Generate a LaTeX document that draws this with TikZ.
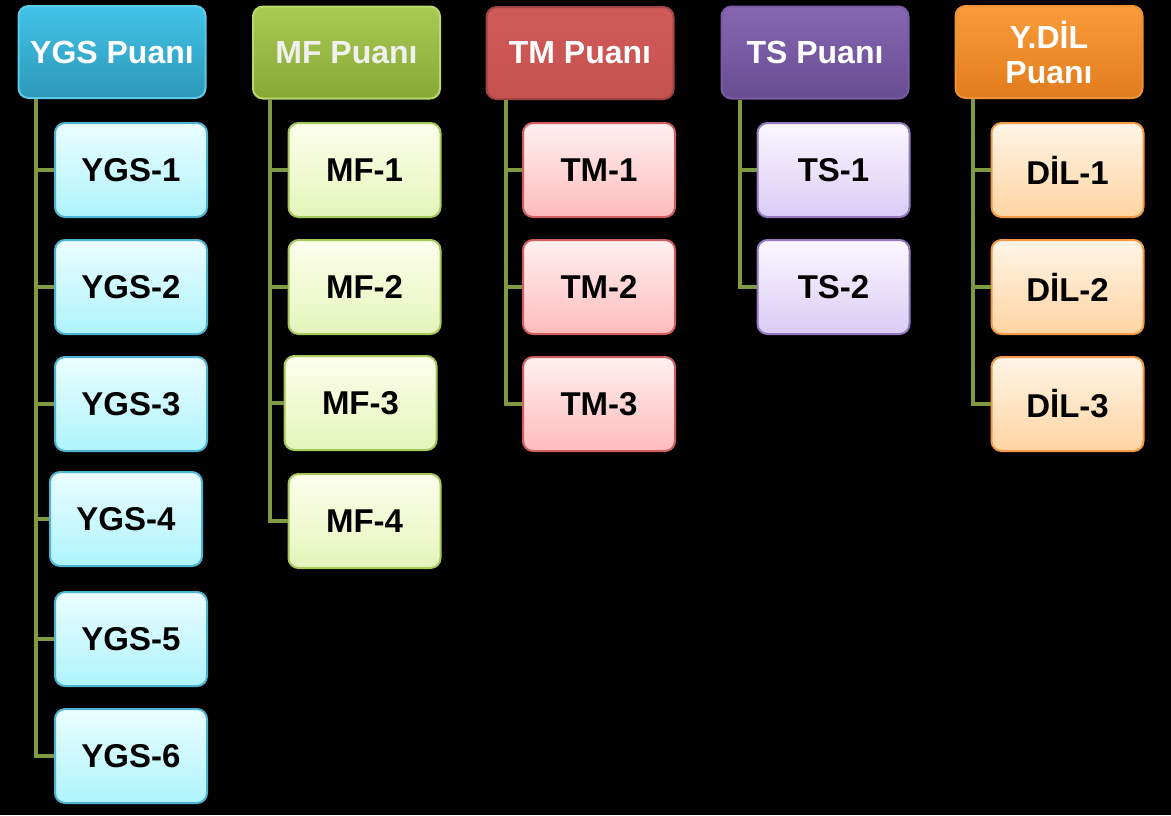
\documentclass[tikz,border=0pt]{standalone}
\usepackage{fontspec}
\setmainfont{Liberation Sans}
\usepackage{xcolor}

\definecolor{hatYesil}{HTML}{7F9A42}
\definecolor{ygsUst}{HTML}{42C3E8}
\definecolor{ygsAlt}{HTML}{2C98B8}
\definecolor{ygsCerceve}{HTML}{5CCBEA}
\definecolor{ygsAcik}{HTML}{EBFEFF}
\definecolor{ygsKoyu}{HTML}{ADF3FC}
\definecolor{ygsCizgi}{HTML}{4DB3D2}
\definecolor{mfUst}{HTML}{A8CB52}
\definecolor{mfAlt}{HTML}{88A836}
\definecolor{mfCerceve}{HTML}{B9D96A}
\definecolor{mfAcik}{HTML}{FDFFEC}
\definecolor{mfKoyu}{HTML}{E4F4BA}
\definecolor{mfCizgi}{HTML}{A6C75A}
\definecolor{tmUst}{HTML}{D05A58}
\definecolor{tmAlt}{HTML}{C65250}
\definecolor{tmCerceve}{HTML}{A24442}
\definecolor{tmAcik}{HTML}{FFF0F0}
\definecolor{tmKoyu}{HTML}{FFBBBB}
\definecolor{tmCizgi}{HTML}{D05E5E}
\definecolor{tsUst}{HTML}{8767B2}
\definecolor{tsAlt}{HTML}{684D92}
\definecolor{tsCerceve}{HTML}{7A5CA4}
\definecolor{tsAcik}{HTML}{FBF7FF}
\definecolor{tsKoyu}{HTML}{DACCF5}
\definecolor{tsCizgi}{HTML}{9479C0}
\definecolor{dilUst}{HTML}{FA9C3A}
\definecolor{dilAlt}{HTML}{E27B1C}
\definecolor{dilCerceve}{HTML}{F0923A}
\definecolor{dilAcik}{HTML}{FFF5E6}
\definecolor{dilKoyu}{HTML}{FFD4A2}
\definecolor{dilCizgi}{HTML}{F49A46}

\tikzset{
  baslik/.style={rounded corners=5pt, minimum width=93.5pt, minimum height=46pt,
    inner sep=0pt, text=white, align=center, line width=1pt,
    font=\bfseries\fontsize{16}{17.5}\selectfont},
  kutu/.style={rounded corners=5pt, minimum width=76pt, minimum height=47pt,
    inner sep=0pt, text=black, line width=1pt,
    font=\bfseries\fontsize{16.5}{18}\selectfont},
  baglanti/.style={draw=hatYesil, line width=2pt},
}

\begin{document}
\begin{tikzpicture}[x=0.5pt,y=-0.5pt]
  \fill[black] (0,0) rectangle (1171,815);
  \useasboundingbox (0,0) rectangle (1171,815);

  % basliklar
  \node[baslik, top color=ygsUst, bottom color=ygsAlt, draw=ygsCerceve] (ygs) at (112,52) {YGS Puanı};
  \node[baslik, top color=mfUst, bottom color=mfAlt, draw=mfCerceve, text=white!94!black] (mf) at (346.5,52.5) {MF Puanı};
  \node[baslik, top color=tmUst, bottom color=tmAlt, draw=tmCerceve] (tm) at (580,53) {TM Puanı};
  \node[baslik, top color=tsUst, bottom color=tsAlt, draw=tsCerceve] (ts) at (815,52.5) {TS Puanı};
  \node[baslik, top color=dilUst, bottom color=dilAlt, draw=dilCerceve] (dil) at (1049,52) {Y.DİL\\Puanı};

  % YGS
  \node[kutu, top color=ygsAcik, bottom color=ygsKoyu, draw=ygsCizgi] (ygs1) at (131,170) {YGS-1};
  \node[kutu, top color=ygsAcik, bottom color=ygsKoyu, draw=ygsCizgi] (ygs2) at (131,287) {YGS-2};
  \node[kutu, top color=ygsAcik, bottom color=ygsKoyu, draw=ygsCizgi] (ygs3) at (131,404) {YGS-3};
  \node[kutu, top color=ygsAcik, bottom color=ygsKoyu, draw=ygsCizgi] (ygs4) at (126,519) {YGS-4};
  \node[kutu, top color=ygsAcik, bottom color=ygsKoyu, draw=ygsCizgi] (ygs5) at (131,639) {YGS-5};
  \node[kutu, top color=ygsAcik, bottom color=ygsKoyu, draw=ygsCizgi] (ygs6) at (131,756) {YGS-6};

  % MF
  \node[kutu, top color=mfAcik, bottom color=mfKoyu, draw=mfCizgi] (mf1) at (364.5,170) {MF-1};
  \node[kutu, top color=mfAcik, bottom color=mfKoyu, draw=mfCizgi] (mf2) at (364.5,287) {MF-2};
  \node[kutu, top color=mfAcik, bottom color=mfKoyu, draw=mfCizgi] (mf3) at (360.5,403) {MF-3};
  \node[kutu, top color=mfAcik, bottom color=mfKoyu, draw=mfCizgi] (mf4) at (364.5,521) {MF-4};

  % TM
  \node[kutu, top color=tmAcik, bottom color=tmKoyu, draw=tmCizgi] (tm1) at (599,170) {TM-1};
  \node[kutu, top color=tmAcik, bottom color=tmKoyu, draw=tmCizgi] (tm2) at (599,287) {TM-2};
  \node[kutu, top color=tmAcik, bottom color=tmKoyu, draw=tmCizgi] (tm3) at (599,404) {TM-3};

  % TS
  \node[kutu, top color=tsAcik, bottom color=tsKoyu, draw=tsCizgi] (ts1) at (833.5,170) {TS-1};
  \node[kutu, top color=tsAcik, bottom color=tsKoyu, draw=tsCizgi] (ts2) at (833.5,287) {TS-2};

  % DIL
  \node[kutu, top color=dilAcik, bottom color=dilKoyu, draw=dilCizgi] (dil1) at (1067.5,170) {DİL-1};
  \node[kutu, top color=dilAcik, bottom color=dilKoyu, draw=dilCizgi] (dil2) at (1067.5,287) {DİL-2};
  \node[kutu, top color=dilAcik, bottom color=dilKoyu, draw=dilCizgi] (dil3) at (1067.5,404) {DİL-3};

  % baglantilar
  \foreach \i in {1,...,6}
    \draw[baglanti] ([xshift=9pt]ygs.south west) |- (ygs\i.west);
  \foreach \i in {1,...,4}
    \draw[baglanti] ([xshift=9pt]mf.south west) |- (mf\i.west);
  \foreach \i in {1,...,3}
    \draw[baglanti] ([xshift=10pt]tm.south west) |- (tm\i.west);
  \foreach \i in {1,2}
    \draw[baglanti] ([xshift=9.5pt]ts.south west) |- (ts\i.west);
  \foreach \i in {1,...,3}
    \draw[baglanti] ([xshift=9pt]dil.south west) |- (dil\i.west);
\end{tikzpicture}
\end{document}
